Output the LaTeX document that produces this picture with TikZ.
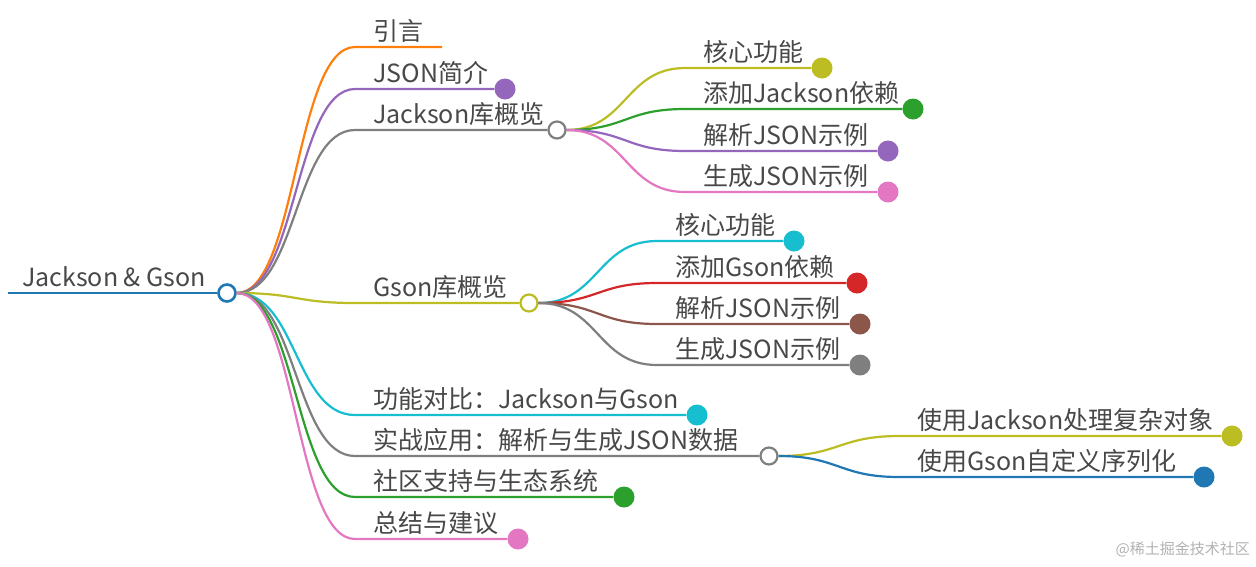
\documentclass[tikz,border=0pt]{standalone}
\usepackage{fontspec}
\setmainfont{Noto Sans CJK SC}
\usepackage{xcolor}
\usetikzlibrary{positioning}
\definecolor{mblue}{HTML}{1F77B4}
\definecolor{morange}{HTML}{FF7F0E}
\definecolor{mgreen}{HTML}{2CA02C}
\definecolor{mred}{HTML}{D62728}
\definecolor{mpurple}{HTML}{9467BD}
\definecolor{mbrown}{HTML}{8C564B}
\definecolor{mpink}{HTML}{E377C2}
\definecolor{mgray}{HTML}{7F7F7F}
\definecolor{molive}{HTML}{BCBD22}
\definecolor{mcyan}{HTML}{17BECF}
\definecolor{txtgray}{HTML}{484848}

\begin{document}
\begin{tikzpicture}[x=1pt, y=-1pt,
  lbl/.style={anchor=base west, inner sep=0pt, text=txtgray,
              font=\fontsize{25}{30}\selectfont},
  hub/.style={circle, draw, fill=white, line width=2.2pt,
              minimum size=17pt, inner sep=0pt},
  leaf/.style={circle, minimum size=21pt, inner sep=0pt},
  link/.style={line width=2.2pt},
  curve/.style={link, to path={.. controls +(60,0) and +(-60,0) .. (\tikztotarget)}},
]
\useasboundingbox (0,0) rectangle (1256,566);

% Root
\node[hub, draw=mblue, line width=2.6pt] (root) at (227,293) {};
\node[lbl] (roott) at (22,286) {Jackson \& Gson};
\coordinate (rin) at (8,293);

% First level
\coordinate (a1) at (355,47);  \coordinate (a1e) at (442,47);
\node[lbl] (t1) at (373,40) {引言};
\coordinate (a2) at (355,89);
\node[leaf, fill=mpurple] (json) at (505,89) {};
\node[lbl] (t2) at (373,82) {JSON简介};
\coordinate (a3) at (355,130);
\node[hub, draw=mgray] (jk) at (557,130) {};
\node[lbl] (t3) at (373,123) {Jackson库概览};
\coordinate (a4) at (355,303);
\node[hub, draw=molive] (gs) at (529,303) {};
\node[lbl] (t4) at (373,296) {Gson库概览};
\coordinate (a5) at (355,415);
\node[leaf, fill=mcyan] (cmp) at (697,415) {};
\node[lbl] (t5) at (373,408) {功能对比：Jackson与Gson};
\coordinate (a6) at (355,456);
\node[hub, draw=mgray] (prac) at (769,456) {};
\node[lbl] (t6) at (373,449) {实战应用：解析与生成JSON数据};
\coordinate (a7) at (355,497);
\node[leaf, fill=mgreen] (comm) at (624,497) {};
\node[lbl] (t7) at (373,490) {社区支持与生态系统};
\coordinate (a8) at (355,539);
\node[leaf, fill=mpink] (sum) at (518,539) {};
\node[lbl] (t8) at (373,532) {总结与建议};

% Jackson children
\coordinate (j1) at (685,68);
\node[leaf, fill=molive] (jcore) at (822,68) {};
\node[lbl] (tj1) at (703,61) {核心功能};
\coordinate (j2) at (685,109);
\node[leaf, fill=mgreen] (jdep) at (913,109) {};
\node[lbl] (tj2) at (703,102) {添加Jackson依赖};
\coordinate (j3) at (685,151);
\node[leaf, fill=mpurple] (jpar) at (888,151) {};
\node[lbl] (tj3) at (703,144) {解析JSON示例};
\coordinate (j4) at (685,192);
\node[leaf, fill=mpink] (jgen) at (888,192) {};
\node[lbl] (tj4) at (703,185) {生成JSON示例};

% Gson children
\coordinate (g1) at (657,241);
\node[leaf, fill=mcyan] (gcore) at (794,241) {};
\node[lbl] (tg1) at (675,234) {核心功能};
\coordinate (g2) at (657,283);
\node[leaf, fill=mred] (gdep) at (857,283) {};
\node[lbl] (tg2) at (675,276) {添加Gson依赖};
\coordinate (g3) at (657,324);
\node[leaf, fill=mbrown] (gpar) at (860,324) {};
\node[lbl] (tg3) at (675,317) {解析JSON示例};
\coordinate (g4) at (657,365);
\node[leaf, fill=mgray] (ggen) at (860,365) {};
\node[lbl] (tg4) at (675,358) {生成JSON示例};

% Practice children
\coordinate (p1) at (899,436);
\node[leaf, fill=molive] (pjk) at (1232,436) {};
\node[lbl] (tp1) at (917,429) {使用Jackson处理复杂对象};
\coordinate (p2) at (899,477);
\node[leaf, fill=mblue] (pgs) at (1204,477) {};
\node[lbl] (tp2) at (917,470) {使用Gson自定义序列化};

% Watermark
\node[anchor=east, inner sep=0pt, text=gray!60, font=\fontsize{15}{18}\selectfont]
  (wm) at (1250,549) {@稀土掘金技术社区};

% Connectors
\draw[link, mblue, line width=2.6pt] (rin) -- (root);
\draw[curve, morange] (root.east) to (a1) -- (a1e);
\draw[curve, mpurple] (root.east) to (a2) -- (json);
\draw[curve, mgray]   (root.east) to (a3) -- (jk);
\draw[curve, molive]  (root.east) to (a4) -- (gs);
\draw[curve, mcyan]   (root.east) to (a5) -- (cmp);
\draw[curve, mgray]   (root.east) to (a6) -- (prac);
\draw[curve, mgreen]  (root.east) to (a7) -- (comm);
\draw[curve, mpink]   (root.east) to (a8) -- (sum);

\draw[curve, molive]  (jk.east) to (j1) -- (jcore);
\draw[curve, mgreen]  (jk.east) to (j2) -- (jdep);
\draw[curve, mpurple] (jk.east) to (j3) -- (jpar);
\draw[curve, mpink]   (jk.east) to (j4) -- (jgen);

\draw[curve, mcyan]   (gs.east) to (g1) -- (gcore);
\draw[curve, mred]    (gs.east) to (g2) -- (gdep);
\draw[curve, mbrown]  (gs.east) to (g3) -- (gpar);
\draw[curve, mgray]   (gs.east) to (g4) -- (ggen);

\draw[curve, molive]  (prac.east) to (p1) -- (pjk);
\draw[curve, mblue]   (prac.east) to (p2) -- (pgs);
\end{tikzpicture}
\end{document}
